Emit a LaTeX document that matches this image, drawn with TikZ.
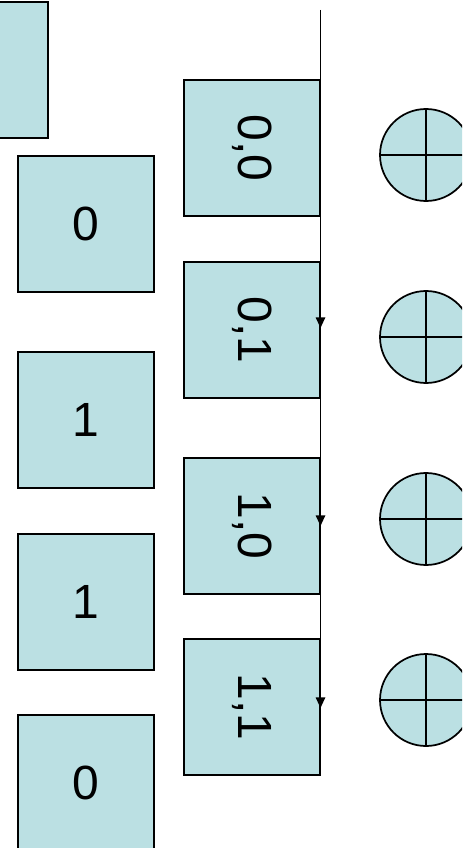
\documentclass[tikz,border=0pt]{standalone}
\usepackage{fontspec}
\setmainfont{Liberation Sans}
\usetikzlibrary{arrows.meta, positioning, calc}
\definecolor{cellblue}{RGB}{187,224,227}

\begin{document}
\begin{tikzpicture}[x=0.75pt, y=-0.75pt,
    cell/.style={fill=cellblue, draw=black, line width=1.3pt, minimum width=102pt, minimum height=102pt, inner sep=0pt, font=\fontsize{36}{40}\selectfont},
    pair/.style={cell, rotate=-90},
    adder/.style={circle, fill=cellblue, draw=black, line width=1.3pt, minimum size=69pt, inner sep=0pt},
    flow/.style={line width=1.4pt, -{Triangle[length=8pt, width=7pt]}}]
\useasboundingbox (0,0) rectangle (462,848);
\clip (0,0) rectangle (462,848);

% cut-off cell at top left
\node[cell] (prev) at (-20,70) {};

% input bits
\foreach \i/\y/\bit in {0/224/0, 1/420/1, 2/602/1, 3/783/0} {
    \node[cell] (bit\i) at (86,\y) {\bit};
}

% state pairs
\foreach \i/\y/\st in {0/148/{0,0}, 1/330/{0,1}, 2/526/{1,0}, 3/707/{1,1}} {
    \node[pair] (st\i) at (252,\y) {\st};
}

% adders
\foreach \i/\y in {0/155, 1/337, 2/519, 3/700} {
    \node[adder] (add\i) at (426,\y) {};
    \draw[line width=1.3pt] (add\i.north) -- (add\i.south);
    \draw[line width=1.3pt] (add\i.west) -- (add\i.east);
}

% shift line down the right side
\coordinate (top) at (320.5,10);
\coordinate (a1) at (320.5,328);
\coordinate (a2) at (320.5,526);
\coordinate (a3) at (320.5,708);
\draw[flow] (top) -- (a1);
\draw[flow] (a1) -- (a2);
\draw[flow] (a2) -- (a3);

\end{tikzpicture}
\end{document}
